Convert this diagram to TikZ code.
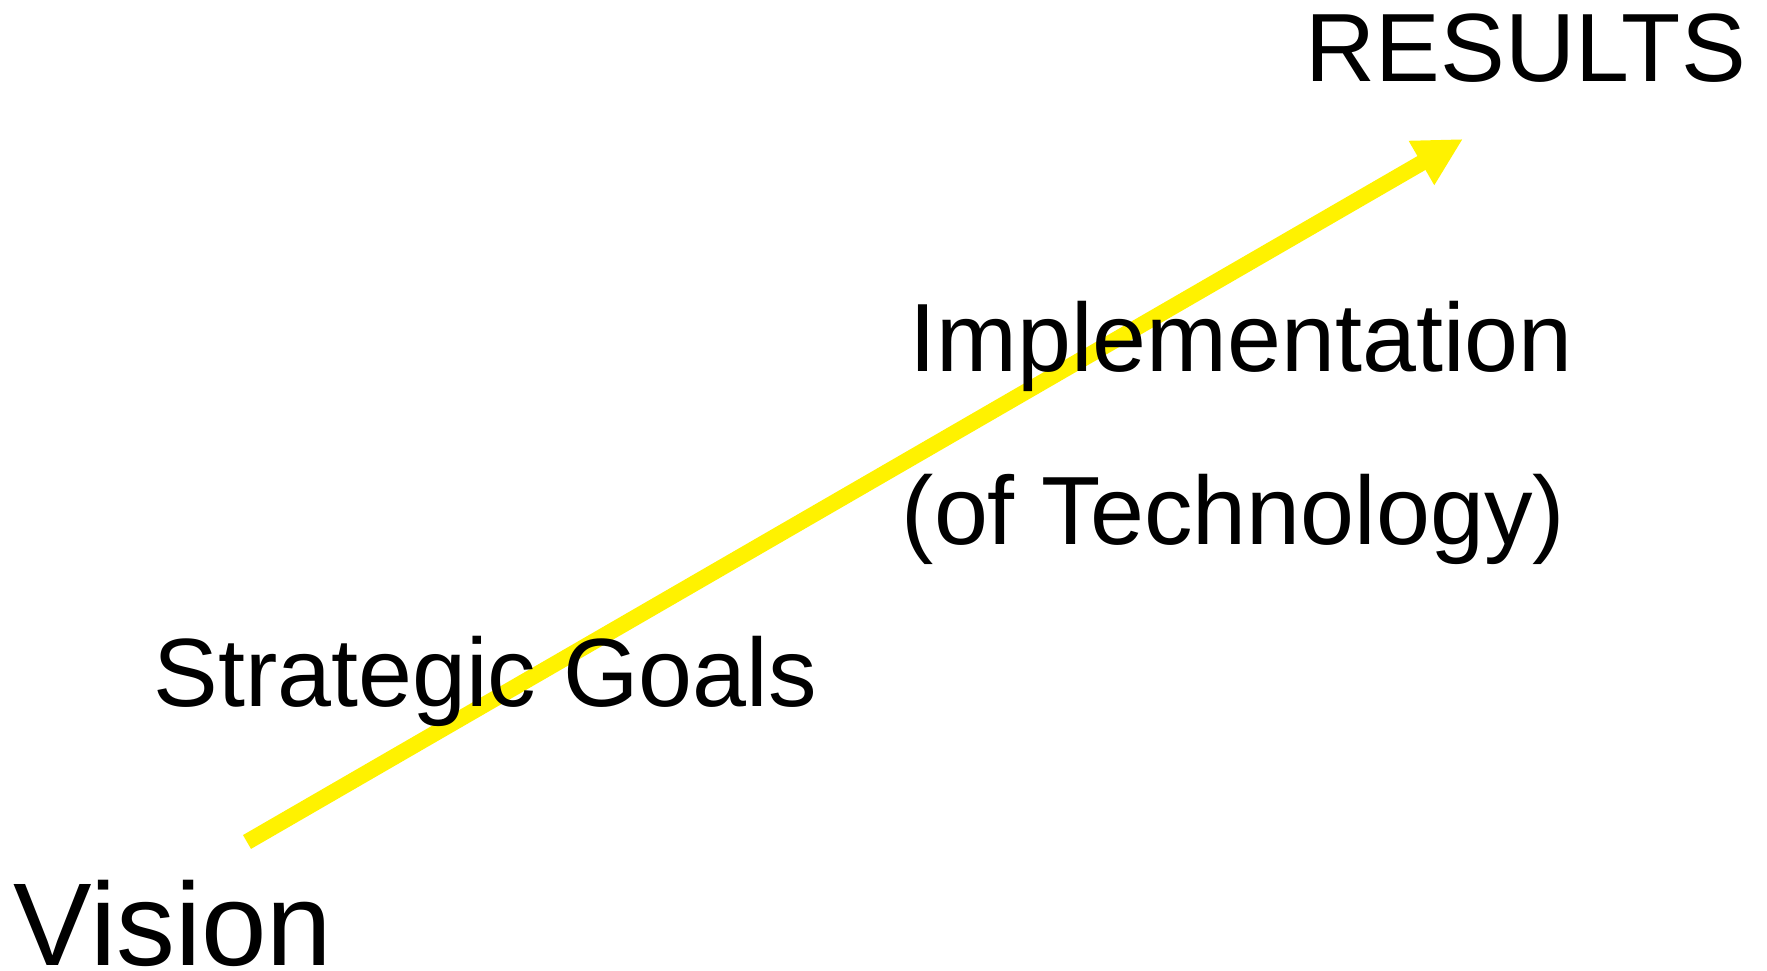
\documentclass[tikz,border=0pt]{standalone}
\usepackage{fontspec}
\setmainfont{Liberation Sans}
\usetikzlibrary{arrows.meta}

\begin{document}
\begin{tikzpicture}[
          every node/.style={anchor=base west, inner sep=0pt},
          txt/.style={font=\fontsize{27.6}{33}\selectfont},
          bigtxt/.style={font=\fontsize{33.5}{40}\selectfont}]
            \useasboundingbox (0,0) rectangle (17.67,9.71);

            % arrow first, text lies on top of it
            \coordinate (start) at (2.47,1.29);
            \coordinate (end) at (14.63,8.32);
            \draw[yellow, line width=0.16cm, -{Triangle[length=4.8mm, width=4.75mm]}] (start) -- (end);

            \node[txt] (results) at (13.05,8.89) {RESULTS};

            \node[txt] (impl) at (9.09,5.99) {Implementation};
            \node[txt] (tech) at (9.01,4.26) {(of Technology)};

            \node[txt] (goals) at (1.53,2.64) {Strategic Goals};

            \node[bigtxt] (vision) at (0.13,0.05) {Vision};
\end{tikzpicture}
\end{document}
